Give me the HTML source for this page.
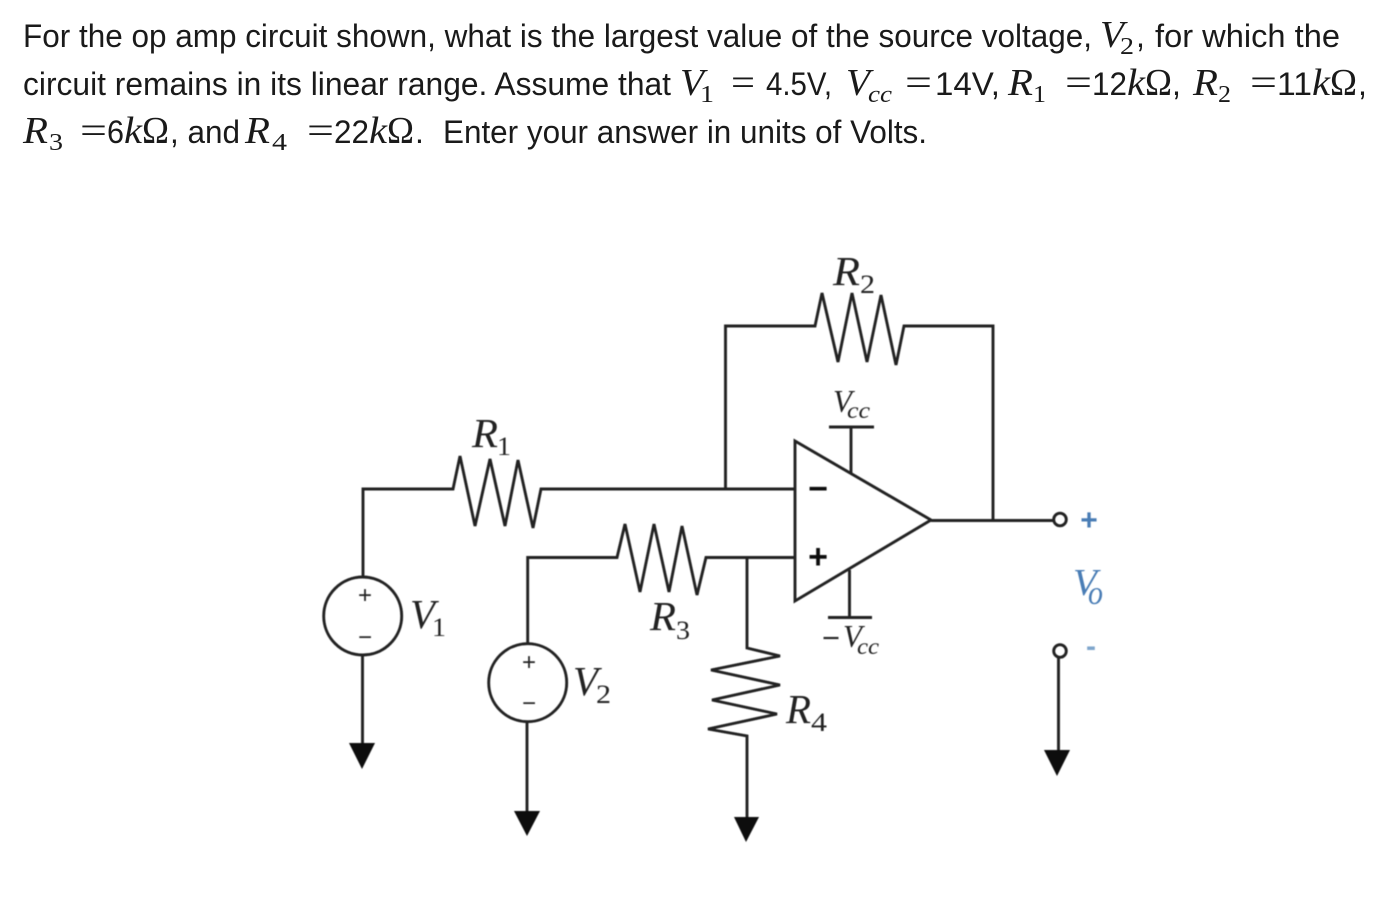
<!DOCTYPE html>
<html><head><meta charset="utf-8"><style>
html,body{margin:0;padding:0;background:#fff;width:1398px;height:908px;overflow:hidden}
svg{display:block}
.t{font-family:"Liberation Sans",sans-serif;font-size:32px;fill:#1a1a1a}
.m{font-family:"Liberation Serif",serif;font-size:38px;fill:#1a1a1a}
.i{font-style:italic}
.s{font-family:"Liberation Serif",serif;font-size:24px;fill:#1a1a1a}
.d{font-family:"Liberation Serif",serif;font-style:italic;fill:#222}
.n{font-family:"Liberation Sans",sans-serif;fill:#222}
.g{font-family:"Liberation Serif",serif;fill:#222}
.w{fill:none;stroke:#222;stroke-width:2.9;stroke-linejoin:miter}
</style></head><body>
<svg width="1398" height="908" viewBox="0 0 1398 908" xmlns="http://www.w3.org/2000/svg">
<defs><filter id="b" x="-5%" y="-5%" width="110%" height="110%"><feGaussianBlur stdDeviation="0.45"/></filter></defs>

<!-- Line 1 -->
<text class="t" x="23" y="47" textLength="1069" lengthAdjust="spacingAndGlyphs">For the op amp circuit shown, what is the largest value of the source voltage,</text>
<text class="m i" x="1100" y="47" textLength="24" lengthAdjust="spacingAndGlyphs">V</text>
<text class="s" x="1120" y="54" textLength="14" lengthAdjust="spacingAndGlyphs">2</text>
<text class="t" x="1136" y="47">,</text>
<text class="t" x="1155" y="47" textLength="185" lengthAdjust="spacingAndGlyphs">for which the</text>

<!-- Line 2 -->
<text class="t" x="23" y="95" textLength="648" lengthAdjust="spacingAndGlyphs">circuit remains in its linear range.  Assume that</text>
<text class="m i" x="680" y="95" textLength="24" lengthAdjust="spacingAndGlyphs">V</text>
<text class="s" x="700" y="102" textLength="14" lengthAdjust="spacingAndGlyphs">1</text>
<text class="m" x="731" y="95" textLength="24" lengthAdjust="spacingAndGlyphs">=</text>
<text class="t" x="766" y="95" textLength="66" lengthAdjust="spacingAndGlyphs">4.5V,</text>
<text class="m i" x="846" y="95" textLength="24" lengthAdjust="spacingAndGlyphs">V</text>
<text class="s i" x="868" y="102" textLength="24" lengthAdjust="spacingAndGlyphs">cc</text>
<text class="m" x="905" y="95" textLength="27" lengthAdjust="spacingAndGlyphs">=</text>
<text class="t" x="935" y="95" textLength="65" lengthAdjust="spacingAndGlyphs">14V,</text>
<text class="m i" x="1008" y="95" textLength="25" lengthAdjust="spacingAndGlyphs">R</text>
<text class="s" x="1033" y="102" textLength="13" lengthAdjust="spacingAndGlyphs">1</text>
<text class="m" x="1065" y="95" textLength="27" lengthAdjust="spacingAndGlyphs">=</text>
<text class="t" x="1092" y="95" textLength="35" lengthAdjust="spacingAndGlyphs">12</text>
<text class="m i" x="1127" y="95" textLength="18" lengthAdjust="spacingAndGlyphs">k</text>
<text class="m" x="1145" y="95" textLength="27" lengthAdjust="spacingAndGlyphs">Ω</text>
<text class="t" x="1172" y="95">,</text>
<text class="m i" x="1193" y="95" textLength="25" lengthAdjust="spacingAndGlyphs">R</text>
<text class="s" x="1218" y="102" textLength="13" lengthAdjust="spacingAndGlyphs">2</text>
<text class="m" x="1250" y="95" textLength="27" lengthAdjust="spacingAndGlyphs">=</text>
<text class="t" x="1277" y="95" textLength="35" lengthAdjust="spacingAndGlyphs">11</text>
<text class="m i" x="1312" y="95" textLength="18" lengthAdjust="spacingAndGlyphs">k</text>
<text class="m" x="1330" y="95" textLength="27" lengthAdjust="spacingAndGlyphs">Ω</text>
<text class="t" x="1358" y="95">,</text>

<!-- Line 3 -->
<text class="m i" x="23" y="143" textLength="25" lengthAdjust="spacingAndGlyphs">R</text>
<text class="s" x="49" y="150" textLength="14" lengthAdjust="spacingAndGlyphs">3</text>
<text class="m" x="80" y="143" textLength="27" lengthAdjust="spacingAndGlyphs">=</text>
<text class="t" x="107" y="143" textLength="17" lengthAdjust="spacingAndGlyphs">6</text>
<text class="m i" x="124" y="143" textLength="18" lengthAdjust="spacingAndGlyphs">k</text>
<text class="m" x="142" y="143" textLength="27" lengthAdjust="spacingAndGlyphs">Ω</text>
<text class="t" x="170" y="143" textLength="70" lengthAdjust="spacingAndGlyphs">, and</text>
<text class="m i" x="245" y="143" textLength="25" lengthAdjust="spacingAndGlyphs">R</text>
<text class="s" x="272" y="150" textLength="15" lengthAdjust="spacingAndGlyphs">4</text>
<text class="m" x="307" y="143" textLength="27" lengthAdjust="spacingAndGlyphs">=</text>
<text class="t" x="334" y="143" textLength="35" lengthAdjust="spacingAndGlyphs">22</text>
<text class="m i" x="369" y="143" textLength="18" lengthAdjust="spacingAndGlyphs">k</text>
<text class="m" x="387" y="143" textLength="27" lengthAdjust="spacingAndGlyphs">Ω</text>
<text class="t" x="415" y="143">.</text>
<text class="t" x="443" y="143" textLength="484" lengthAdjust="spacingAndGlyphs">Enter your answer in units of Volts.</text>

<g filter="url(#b)">
<!-- V1 branch and R1 -->
<path class="w" d="M363 577V489H453L460 456L475 526L490 459L505 526L518 460L533 528L541 489H795"/>
<circle class="w" cx="362.7" cy="616" r="39"/>
<path class="w" d="M362.5 655V745"/>
<path d="M349 743H375L362 769Z" fill="#111"/>

<!-- V2 branch and R3 -->
<path class="w" d="M527.7 644V557.5H617L625 524L640 592L654 524L669 592L682 526L697 595L706 557.5H795"/>
<circle class="w" cx="527.7" cy="682.7" r="39"/>
<path class="w" d="M527 722V812"/>
<path d="M514 811H540L527 836Z" fill="#111"/>

<!-- R4 -->
<path class="w" d="M747 557.5V648L780 656L711 670L780 685L712 700L777 714L708 729L747 736V820"/>
<path d="M734 817H759L746 842Z" fill="#111"/>

<!-- R2 feedback -->
<path class="w" d="M725.5 488V326H815L822 293L838 362L852 293L867 362L881 295L896 365L904 326H993V520"/>

<!-- Op amp -->
<path class="w" d="M795 441L931 520L795 601Z"/>
<path class="w" d="M829 427H874M851 427V474"/>
<path class="w" d="M849.5 570V617M828 617.500H872"/>
<path class="w" d="M931 520.500H1054"/>
<circle class="w" cx="1060" cy="519.500" r="6.300"/>
<circle class="w" cx="1060" cy="651" r="6.300"/>
<path class="w" d="M1058.500 657V752"/>
<path d="M1044 750H1070L1057 776Z" fill="#111"/>

<!-- Diagram labels -->
<text class="d" x="472" y="447" font-size="41" textLength="26" lengthAdjust="spacingAndGlyphs">R</text>
<text class="g" x="497" y="455" font-size="26" textLength="14" lengthAdjust="spacingAndGlyphs">1</text>
<text class="d" x="833" y="285" font-size="41" textLength="27" lengthAdjust="spacingAndGlyphs">R</text>
<text class="g" x="860" y="293" font-size="26" textLength="15" lengthAdjust="spacingAndGlyphs">2</text>
<text class="d" x="650" y="630" font-size="41" textLength="26" lengthAdjust="spacingAndGlyphs">R</text>
<text class="g" x="676" y="639" font-size="26" textLength="14" lengthAdjust="spacingAndGlyphs">3</text>
<text class="d" x="786" y="723" font-size="41" textLength="25" lengthAdjust="spacingAndGlyphs">R</text>
<text class="g" x="811" y="731" font-size="26" textLength="16" lengthAdjust="spacingAndGlyphs">4</text>
<text class="d" x="410" y="628" font-size="41" textLength="25" lengthAdjust="spacingAndGlyphs">V</text>
<text class="g" x="432" y="636" font-size="26" textLength="14" lengthAdjust="spacingAndGlyphs">1</text>
<text class="d" x="573" y="695" font-size="41" textLength="25" lengthAdjust="spacingAndGlyphs">V</text>
<text class="g" x="596" y="703" font-size="26" textLength="15" lengthAdjust="spacingAndGlyphs">2</text>
<text class="d" x="833" y="412" font-size="32" textLength="19" lengthAdjust="spacingAndGlyphs">V</text>
<text class="d" x="847" y="418" font-size="23" textLength="23" lengthAdjust="spacingAndGlyphs">cc</text>
<text class="n" x="822" y="648" font-size="30" textLength="18" lengthAdjust="spacingAndGlyphs">−</text>
<text class="d" x="843" y="647" font-size="32" textLength="19" lengthAdjust="spacingAndGlyphs">V</text>
<text class="d" x="857" y="654" font-size="23" textLength="22" lengthAdjust="spacingAndGlyphs">cc</text>
<text class="d" x="1073" y="595" font-size="38" textLength="24" lengthAdjust="spacingAndGlyphs" style="fill:#4a7db5">V</text>
<text class="d" x="1088" y="604" font-size="34" textLength="15" lengthAdjust="spacingAndGlyphs" style="fill:#4a7db5">o</text>

<text class="n" x="818" y="568" font-size="34" font-weight="bold" text-anchor="middle" style="fill:#111">+</text>
<text class="n" x="818" y="500" font-size="34" font-weight="bold" text-anchor="middle" style="fill:#111">−</text>
<text class="n" x="365" y="603" font-size="24" text-anchor="middle">+</text>
<text class="n" x="365" y="645" font-size="24" text-anchor="middle">−</text>
<text class="n" x="529" y="670" font-size="24" text-anchor="middle">+</text>
<text class="n" x="529" y="711" font-size="24" text-anchor="middle">−</text>
<text class="n" x="1089" y="530" font-size="30" font-weight="bold" text-anchor="middle" style="fill:#4a7db5">+</text>
<text class="n" x="1091" y="656" font-size="30" font-weight="bold" text-anchor="middle" style="fill:#7fa6cc">-</text>
</g>
</svg>
</body></html>
